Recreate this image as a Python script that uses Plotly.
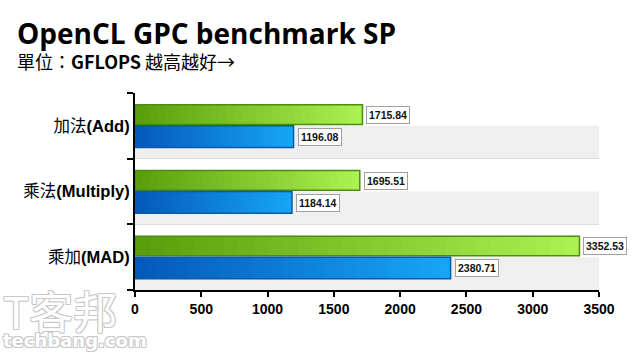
import plotly.graph_objects as go

categories = ["加法(Add)", "乘法(Multiply)", "乘加(MAD)"]
tick_labels = ["加法<b>(Add)</b>", "乘法<b>(Multiply)</b>", "乘加<b>(MAD)</b>"]
green_values = [1715.84, 1695.51, 3352.53]
blue_values = [1196.08, 1184.14, 2380.71]
x_ticks = [0, 500, 1000, 1500, 2000, 2500, 3000, 3500]

N = 30

def lerp(c1, c2, t):
    return "rgb(%d,%d,%d)" % tuple(round(a + (b - a) * t) for a, b in zip(c1, c2))

fig = go.Figure()

series = [
    (green_values, (0x58, 0x9e, 0x0a), (0xac, 0xf2, 0x52), "#4d8c12", -0.32, 0.30),
    (blue_values, (0x05, 0x58, 0xba), (0x16, 0xa6, 0xf6), "#0b5aa8", 0.0, 0.33),
]

for vals, c1, c2, lc, off, wid in series:
    for i in range(N):
        # each gradient step runs to the bar end; later steps cover earlier ones (no seams)
        fig.add_trace(go.Bar(
            y=categories, x=[v * (N - i) / N for v in vals], base=[v * i / N for v in vals],
            orientation="h", offset=off, width=wid,
            marker=dict(color=lerp(c1, c2, (i + 0.5) / N), line=dict(width=0)),
            showlegend=False, hoverinfo="skip"))
    fig.add_trace(go.Bar(
        y=categories, x=vals, orientation="h", offset=off, width=wid,
        marker=dict(color="rgba(0,0,0,0)", line=dict(color=lc, width=1.5)),
        showlegend=False))

# label boxes
for vals, ys in [(green_values, 11), (blue_values, -11)]:
    for c, v in zip(categories, vals):
        fig.add_annotation(
            x=v, y=c, xref="x", yref="y", text="<b>%.2f</b>" % v,
            showarrow=False, xanchor="left", xshift=4, yshift=ys,
            font=dict(family="Liberation Sans", size=10.5, color="#111"),
            bgcolor="white", bordercolor="#a0a0a0", borderwidth=1, borderpad=2)

# alternating bands (lower half of each category grey)
for i in range(len(categories)):
    fig.add_shape(type="rect", xref="x", yref="y", x0=0, x1=3500,
                  y0=i, y1=i + 0.5, fillcolor="#efefef", line=dict(width=0),
                  layer="below")

# watermark
wm_shadow = "1px 1px 0 #c8c8c8, -1px -1px 0 #c8c8c8, 1px -1px 0 #c8c8c8, -1px 1px 0 #c8c8c8"
fig.add_annotation(xref="paper", yref="paper", x=0, y=0, xanchor="left", yanchor="top",
                   text="T客邦", showarrow=False, xshift=-134, yshift=14,
                   font=dict(family="Noto Sans CJK TC", size=44, color="white", shadow=wm_shadow))
fig.add_annotation(xref="paper", yref="paper", x=0, y=0, xanchor="left", yanchor="bottom",
                   text="<b>techbang.com</b>", showarrow=False, xshift=-134, yshift=-63,
                   font=dict(family="DejaVu Sans", size=18, color="white", shadow=wm_shadow))

# title and subtitle
fig.add_annotation(xref="paper", yref="paper", x=0, y=1, xanchor="left", yanchor="bottom",
                   text="<b>OpenCL GPC benchmark SP</b>", showarrow=False,
                   xshift=-120, yshift=39,
                   font=dict(family="Open Sans", size=28, color="#000"))
fig.add_annotation(xref="paper", yref="paper", x=0, y=1, xanchor="left", yanchor="bottom",
                   text="單位：<b>GFLOPS</b> 越高越好→", showarrow=False,
                   xshift=-120, yshift=17,
                   font=dict(family="Noto Sans CJK TC", size=18, color="#000"))

fig.update_layout(
    width=640, height=352,
    margin=dict(l=135, r=41, t=93, b=62),
    paper_bgcolor="white", plot_bgcolor="white",
    barmode="overlay",
    xaxis=dict(range=[0, 3500], tickvals=x_ticks, ticktext=["<b>%d</b>" % t for t in x_ticks],
               showgrid=False, zeroline=False,
               showline=True, linecolor="black", linewidth=2,
               ticks="outside", ticklen=5, tickwidth=2, tickcolor="black",
               tickfont=dict(family="Liberation Sans", size=14, color="#000")),
    yaxis=dict(type="category", categoryorder="array", categoryarray=categories,
               autorange="reversed",
               tickvals=categories, ticktext=tick_labels,
               tickson="boundaries", showgrid=True, gridcolor="#dcdcdc", gridwidth=1,
               showline=True, linecolor="black", linewidth=2,
               ticks="outside", ticklen=6, tickwidth=2, tickcolor="black",
               tickfont=dict(family="Liberation Sans, Noto Sans CJK TC", size=16.5, color="#000")),
)

fig.write_html("out.html")
